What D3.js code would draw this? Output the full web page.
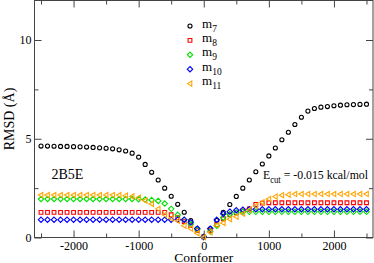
<!DOCTYPE html>
<html>
<head>
<meta charset="utf-8">
<script src="https://cdn.jsdelivr.net/npm/d3@7"></script>
<style>
  body { margin: 0; background: #fff; }
  svg { display: block; }
</style>
</head>
<body>
<div class="chart"></div>
<script>
// conformer index, one point every 100
const conformers = d3.range(-2500, 2501, 100);

const m7 = [4.63, 4.63, 4.62, 4.61, 4.61, 4.60, 4.59, 4.58, 4.56, 4.54, 4.52, 4.49, 4.44, 4.38, 4.27, 4.07, 3.70, 3.30, 2.91, 2.50, 2.09, 1.68, 1.28, 0.86, 0.44, 0.05,
            0.44, 0.86, 1.27, 1.67, 2.08, 2.50, 2.91, 3.33, 3.72, 4.13, 4.53, 4.95, 5.33, 5.72, 6.09, 6.40, 6.53, 6.60, 6.63, 6.67, 6.70, 6.72, 6.73, 6.74, 6.75];
const m8 = [1.27, 1.27, 1.27, 1.27, 1.27, 1.27, 1.27, 1.27, 1.27, 1.27, 1.27, 1.27, 1.27, 1.27, 1.27, 1.27, 1.27, 1.27, 1.27, 1.27, 1.15, 1.00, 0.80, 0.60, 0.35, 0.03,
            0.35, 0.65, 0.95, 1.15, 1.25, 1.35, 1.45, 1.68, 1.74, 1.76, 1.76, 1.76, 1.76, 1.76, 1.76, 1.76, 1.76, 1.76, 1.76, 1.76, 1.76, 1.76, 1.76, 1.76, 1.76];
const m9 = [1.95, 1.95, 1.95, 1.95, 1.95, 1.95, 1.95, 1.95, 1.95, 1.95, 1.95, 1.95, 1.95, 1.95, 1.95, 1.94, 1.92, 1.90, 1.85, 1.72, 1.45, 1.15, 0.90, 0.68, 0.40, 0.03,
            0.30, 0.60, 1.00, 1.18, 1.26, 1.30, 1.30, 1.30, 1.30, 1.30, 1.30, 1.30, 1.30, 1.30, 1.30, 1.30, 1.30, 1.30, 1.30, 1.30, 1.30, 1.30, 1.30, 1.30, 1.30];
const m10 = [0.90, 0.90, 0.90, 0.90, 0.90, 0.90, 0.90, 0.90, 0.90, 0.90, 0.90, 0.90, 0.90, 0.90, 0.90, 0.90, 0.90, 0.90, 0.90, 0.90, 0.90, 0.90, 0.90, 0.77, 0.45, 0.03,
             0.45, 0.90, 1.20, 1.31, 1.38, 1.41, 1.43, 1.43, 1.43, 1.43, 1.43, 1.43, 1.43, 1.43, 1.43, 1.43, 1.43, 1.43, 1.43, 1.43, 1.43, 1.43, 1.43, 1.43, 1.43];
const m11 = [2.15, 2.15, 2.15, 2.15, 2.15, 2.15, 2.15, 2.15, 2.15, 2.15, 2.15, 2.15, 2.15, 2.12, 2.08, 2.02, 1.87, 1.70, 1.45, 1.15, 0.97, 0.85, 0.60, 0.45, 0.22, 0.02,
             0.27, 0.62, 0.74, 0.93, 1.05, 1.20, 1.40, 1.60, 1.78, 1.95, 2.07, 2.14, 2.17, 2.20, 2.20, 2.20, 2.20, 2.20, 2.20, 2.20, 2.20, 2.20, 2.20, 2.20, 2.20];

const seriesNames = ["7", "8", "9", "10", "11"];
const seriesValues = [m7, m8, m9, m10, m11];
const seriesColors = ["#000000", "#ff0000", "#00e000", "#0000ff", "#ffa500"];
const seriesShapes = ["circle", "square", "diamond", "diamond", "triangle"];

const xMajor = [-2000, -1000, 0, 1000, 2000];
const xMinor = [-2500, -1500, -500, 500, 1500, 2500];
const yMajor = [0, 5, 10];
const yMinor = [2.5, 7.5];

const width = 374, height = 263;
const margin = { top: 0.5, right: 1, bottom: 25.5, left: 34.5 };
const serif = "Liberation Serif";

const svg = d3.select(".chart").append("svg")
    .attr("width", width)
    .attr("height", height)
    .attr("font-family", serif)
    .style("background", "#fff");

const x = d3.scaleLinear()
    .domain([-2600, 2600])
    .range([margin.left, width - margin.right]);

const y = d3.scaleLinear()
    .domain([0, 12])
    .range([height - margin.bottom, margin.top]);

const axisColor = "#444";

function styleAxis(g) {
    g.attr("font-family", serif).attr("font-size", 12);
    g.select(".domain").remove();
    g.selectAll("line").attr("stroke", axisColor);
    g.selectAll("text").attr("fill", "#000").attr("font-family", serif);
}

const fmt = d => String(d);

// bottom
svg.append("g")
    .attr("transform", `translate(0, ${y(0)})`)
    .call(d3.axisBottom(x).tickValues(xMajor).tickSize(-7).tickPadding(4).tickFormat(fmt).tickSizeOuter(0))
    .call(styleAxis);
svg.append("g")
    .attr("transform", `translate(0, ${y(0)})`)
    .call(d3.axisBottom(x).tickValues(xMinor).tickSize(-4).tickFormat("").tickSizeOuter(0))
    .call(styleAxis);
// top
svg.append("g")
    .attr("transform", `translate(0, ${y(12)})`)
    .call(d3.axisTop(x).tickValues(xMajor).tickSize(-7).tickFormat("").tickSizeOuter(0))
    .call(styleAxis);
svg.append("g")
    .attr("transform", `translate(0, ${y(12)})`)
    .call(d3.axisTop(x).tickValues(xMinor).tickSize(-4).tickFormat("").tickSizeOuter(0))
    .call(styleAxis);
// left
svg.append("g")
    .attr("transform", `translate(${x(-2600)}, 0)`)
    .call(d3.axisLeft(y).tickValues(yMajor).tickSize(-7).tickPadding(3).tickFormat(fmt).tickSizeOuter(0))
    .call(styleAxis);
svg.append("g")
    .attr("transform", `translate(${x(-2600)}, 0)`)
    .call(d3.axisLeft(y).tickValues(yMinor).tickSize(-4).tickFormat("").tickSizeOuter(0))
    .call(styleAxis);
// right
svg.append("g")
    .attr("transform", `translate(${x(2600)}, 0)`)
    .call(d3.axisRight(y).tickValues(yMajor).tickSize(-7).tickFormat("").tickSizeOuter(0))
    .call(styleAxis);
svg.append("g")
    .attr("transform", `translate(${x(2600)}, 0)`)
    .call(d3.axisRight(y).tickValues(yMinor).tickSize(-4).tickFormat("").tickSizeOuter(0))
    .call(styleAxis);

// frame
svg.append("rect")
    .attr("x", x(-2600))
    .attr("y", y(12))
    .attr("width", x(2600) - x(-2600))
    .attr("height", y(0) - y(12))
    .attr("fill", "none")
    .attr("stroke", axisColor);

const shapePaths = {
    circle: d3.symbol().type(d3.symbolCircle).size(13)(),
    square: d3.symbol().type(d3.symbolSquare).size(14)(),
    diamond: "M0,-2.7L2.7,0L0,2.7L-2.7,0Z",
    triangle: "M-2.6,0L1.8,-2.6L1.8,2.6Z"
};

function drawMarker(sel, shape, color) {
    sel.append("path")
        .attr("d", shapePaths[shape])
        .attr("fill", "none")
        .attr("stroke", color)
        .attr("stroke-width", 1.1);
}

seriesValues.forEach((vals, si) => {
    const g = svg.append("g");
    g.selectAll("g")
        .data(vals)
        .enter()
        .append("g")
            .attr("transform", (d, i) => `translate(${x(conformers[i])}, ${y(d)})`)
            .each(function () { drawMarker(d3.select(this), seriesShapes[si], seriesColors[si]); });
});

// legend
const legend = svg.append("g").attr("transform", "translate(190, 26)");
seriesNames.forEach((name, i) => {
    const row = legend.append("g").attr("transform", `translate(0, ${i * 14.4})`);
    drawMarker(row, seriesShapes[i], seriesColors[i]);
    const t = row.append("text")
        .attr("x", 12)
        .attr("y", 1.5)
        .attr("font-family", serif)
        .attr("font-size", 13);
    t.append("tspan").text("m");
    t.append("tspan").attr("dy", 4).attr("font-size", 9.5).text(name);
});

// annotations
svg.append("text")
    .attr("x", 51.5)
    .attr("y", 179)
    .attr("font-family", serif)
    .attr("font-size", 14)
    .text("2B5E");

const ecut = svg.append("text")
    .attr("x", 263)
    .attr("y", 179)
    .attr("font-family", serif)
    .attr("font-size", 13)
    .attr("textLength", 105)
    .attr("lengthAdjust", "spacingAndGlyphs");
ecut.append("tspan").text("E");
ecut.append("tspan").attr("dy", 4).attr("font-size", 9.5).text("cut");
ecut.append("tspan").attr("dy", -4).text(" = -0.015 kcal/mol");

// axis labels
svg.append("text")
    .attr("x", x(0))
    .attr("y", 261.5)
    .attr("text-anchor", "middle")
    .attr("font-family", serif)
    .attr("font-size", 13.5)
    .text("Conformer");

svg.append("text")
    .attr("transform", `translate(14, ${y(6)}) rotate(-90)`)
    .attr("text-anchor", "middle")
    .attr("font-family", serif)
    .attr("font-size", 14)
    .text("RMSD (Å)");
</script>
</body>
</html>
